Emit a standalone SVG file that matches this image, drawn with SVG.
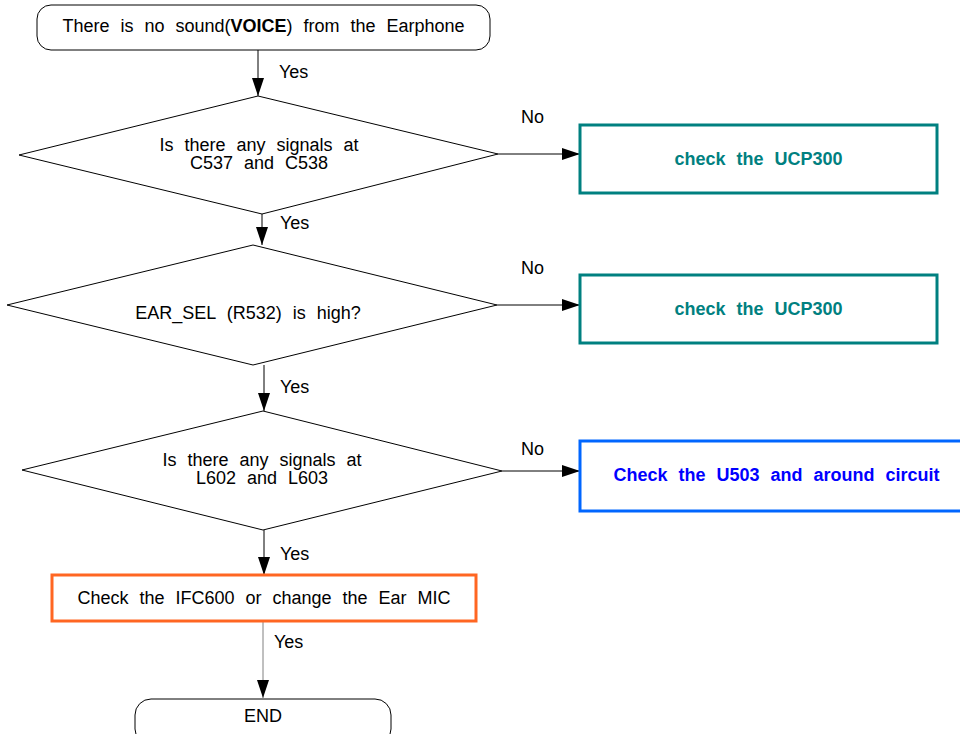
<svg xmlns="http://www.w3.org/2000/svg" width="960" height="734" viewBox="0 0 960 734">
<defs>
<marker id="ah" markerUnits="userSpaceOnUse" markerWidth="18" markerHeight="12" refX="18" refY="6" orient="auto">
<path d="M0,0 L18,6 L0,12 z" fill="#000"/>
</marker>
<style>
text{font-family:"Liberation Sans",Arial,sans-serif;font-size:18px;fill:#000;word-spacing:6px}
.c{text-anchor:middle}
.b{font-weight:bold}
.shape{fill:#fff;stroke:#000;stroke-width:1}
.teal{fill:#fff;stroke:#008080;stroke-width:3}
.tealt{fill:#008080;font-weight:bold}
.blue{fill:#fff;stroke:#0066ff;stroke-width:3}
.bluet{fill:#0000ff;font-weight:bold}
.orange{fill:#fff;stroke:#ff6622;stroke-width:3}
.conn{fill:none;stroke:#000;stroke-width:1;marker-end:url(#ah)}
</style>
</defs>
<rect width="960" height="734" fill="#fff"/>
<g id="connectors">
<path class="conn" d="M258,50 V96"/>
<path class="conn" d="M262,214 V245"/>
<path class="conn" d="M264,365 V411"/>
<path class="conn" d="M264,530 V575"/>
<path class="conn" style="stroke:#808080" d="M263,621 V698"/>
<path class="conn" d="M498,154 H580"/>
<path class="conn" d="M497,305 H580"/>
<path class="conn" d="M502,471 H580"/>
<text x="279" y="78">Yes</text>
<text x="280" y="229">Yes</text>
<text x="280" y="393">Yes</text>
<text x="280" y="560">Yes</text>
<text x="274" y="648">Yes</text>
<text x="521" y="123">No</text>
<text x="521" y="274">No</text>
<text x="521" y="455">No</text>
</g>
<g id="start">
<rect class="shape" x="37" y="5" width="453" height="45" rx="14" ry="14"/>
<text class="c" x="263.5" y="32">There is no sound(<tspan class="b">VOICE</tspan>) from the Earphone</text>
</g>
<g id="dec1">
<polygon class="shape" points="19,155 258,96 498,154 262,214"/>
<text class="c" x="259" y="151">Is there any signals at</text>
<text class="c" x="259" y="169">C537 and C538</text>
</g>
<g id="box1">
<rect class="teal" x="580" y="125" width="357" height="68"/>
<text class="c tealt" x="758.5" y="164.5">check the UCP300</text>
</g>
<g id="dec2">
<polygon class="shape" points="7,305 253,245 497,305 253,365"/>
<text class="c" x="248" y="319">EAR_SEL (R532) is high?</text>
</g>
<g id="box2">
<rect class="teal" x="580" y="275" width="357" height="68"/>
<text class="c tealt" x="758.5" y="314.5">check the UCP300</text>
</g>
<g id="dec3">
<polygon class="shape" points="22,470 263,411 502,471 263,530"/>
<text class="c" x="262" y="466">Is there any signals at</text>
<text class="c" x="262" y="484">L602 and L603</text>
</g>
<g id="box3">
<rect class="blue" x="580" y="441" width="393" height="70"/>
<text class="c bluet" x="776.5" y="481">Check the U503 and around circuit</text>
</g>
<g id="box4">
<rect class="orange" x="52" y="575" width="424" height="46"/>
<text class="c" x="264" y="603.5">Check the IFC600 or change the Ear MIC</text>
</g>
<g id="end">
<rect class="shape" x="135" y="699" width="256" height="46" rx="16" ry="16"/>
<text class="c" x="263" y="722">END</text>
</g>
</svg>
